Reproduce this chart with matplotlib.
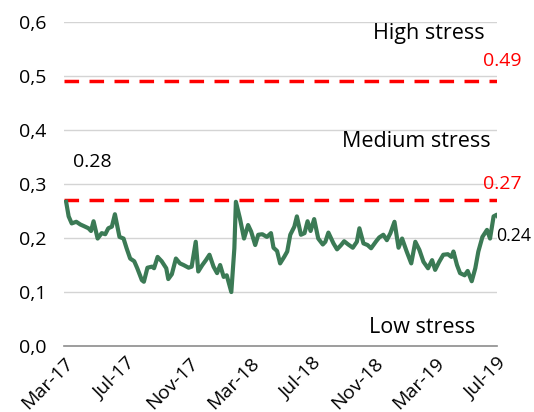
import pandas as pd
import matplotlib
matplotlib.use("Agg")
import matplotlib.pyplot as plt
import matplotlib.dates as mdates
from matplotlib.ticker import FuncFormatter

# ── DATA ──────────────────────────────────────────────────────────────────────

START = "2017-03-01"
# days since START
days = [4, 9, 15, 24, 32, 39, 48, 53, 58, 66, 74, 81, 87, 94, 100, 109, 117, 123,
        130, 138, 144, 153, 157, 164, 173, 177, 184, 192, 201, 205, 212, 220, 228,
        235, 245, 251, 259, 264, 272, 279, 286, 294, 301, 307, 314, 320, 329, 335,
        338, 346, 354, 362, 368, 376, 382, 390, 399, 407, 412, 419, 425, 433, 439,
        445, 453, 458, 466, 473, 479, 485, 492, 500, 509, 514, 520, 530, 537, 545,
        551, 559, 568, 576, 581, 589, 597, 604, 614, 620, 628, 635, 642, 650, 658,
        665, 674, 683, 691, 699, 707, 716, 724, 730, 738, 746, 755, 762, 766, 773,
        779, 788, 794, 802, 809, 815, 823, 832, 838, 845, 851, 856]
stress = [0.267, 0.240, 0.227, 0.230, 0.225, 0.222, 0.218, 0.213, 0.231, 0.199,
          0.209, 0.207, 0.218, 0.221, 0.244, 0.202, 0.199, 0.181, 0.162, 0.157,
          0.144, 0.122, 0.119, 0.145, 0.147, 0.144, 0.165, 0.157, 0.144, 0.124,
          0.133, 0.162, 0.153, 0.150, 0.145, 0.147, 0.193, 0.138, 0.150, 0.159,
          0.169, 0.147, 0.135, 0.150, 0.128, 0.131, 0.100, 0.181, 0.267, 0.236,
          0.199, 0.224, 0.212, 0.187, 0.206, 0.207, 0.202, 0.209, 0.182, 0.176,
          0.153, 0.165, 0.175, 0.206, 0.221, 0.240, 0.206, 0.209, 0.231, 0.213,
          0.235, 0.199, 0.188, 0.193, 0.210, 0.190, 0.179, 0.187, 0.194, 0.188,
          0.182, 0.193, 0.218, 0.190, 0.187, 0.181, 0.194, 0.201, 0.206, 0.196,
          0.209, 0.230, 0.182, 0.199, 0.175, 0.153, 0.193, 0.178, 0.156, 0.144,
          0.159, 0.141, 0.156, 0.169, 0.170, 0.165, 0.175, 0.150, 0.135, 0.131,
          0.139, 0.120, 0.144, 0.175, 0.202, 0.215, 0.199, 0.240, 0.243, 0.236]

HIGH_THRESHOLD = 0.49
MEDIUM_THRESHOLD = 0.27
PEAK_LABEL = "0.28"
LAST_LABEL = "0.24"

X_TICKS = ["2017-03-01", "2017-07-01", "2017-11-01", "2018-03-01",
           "2018-07-01", "2018-11-01", "2019-03-01", "2019-07-01"]
Y_TICKS = [0.0, 0.1, 0.2, 0.3, 0.4, 0.5, 0.6]

# ── STYLE ─────────────────────────────────────────────────────────────────────

GREEN = "#3b7a55"
RED = "#ff0000"
GRID = "#d4d4d4"
plt.rcParams["font.family"] = ["Open Sans", "DejaVu Sans"]

dates = pd.Timestamp(START) + pd.to_timedelta(days, unit="D")
xticks = pd.to_datetime(X_TICKS)

fig = plt.figure(figsize=(5.34, 4.12), dpi=100)
ax = fig.add_axes([0.12, 0.16, 0.811, 0.787])

for y in Y_TICKS[1:]:
    ax.axhline(y, color=GRID, linewidth=1.0, zorder=1)

for thr in (HIGH_THRESHOLD, MEDIUM_THRESHOLD):
    ax.axhline(thr, color=RED, linewidth=2.5, linestyle=(0, (4.2, 3.0)), zorder=2)

ax.plot(dates, stress, color=GREEN, linewidth=3.0, solid_joinstyle="round", zorder=3)

ax.set_xlim(xticks[0], xticks[-1])
ax.set_ylim(0, 0.6)
ax.set_xticks(xticks)
ax.xaxis.set_major_formatter(mdates.DateFormatter("%b-%y"))
ax.set_yticks(Y_TICKS)
ax.yaxis.set_major_formatter(FuncFormatter(lambda v, _: f"{v:.1f}".replace(".", ",")))
ax.tick_params(axis="both", length=0, labelsize=14, colors="black")
ax.tick_params(axis="y", pad=13)
ax.tick_params(axis="x", pad=6)
plt.setp(ax.get_xticklabels(), rotation=45, ha="right", rotation_mode="anchor")

for side in ("top", "right", "left"):
    ax.spines[side].set_visible(False)
ax.spines["bottom"].set_color("#8c8c8c")
ax.spines["bottom"].set_linewidth(1.2)

# annotations: x in axes fraction, y in data units
tr = ax.get_yaxis_transform()
ax.text(0.972, 0.578, "High stress", transform=tr, ha="right", va="center", fontsize=15.5)
ax.text(0.985, 0.378, "Medium stress", transform=tr, ha="right", va="center", fontsize=15.5)
ax.text(0.95, 0.035, "Low stress", transform=tr, ha="right", va="center", fontsize=15.5)
ax.text(0.968, 0.528, f"{HIGH_THRESHOLD:.2f}", transform=tr, ha="left", va="center",
        fontsize=14, color=RED)
ax.text(0.968, 0.300, f"{MEDIUM_THRESHOLD:.2f}", transform=tr, ha="left", va="center",
        fontsize=14, color=RED)
ax.text(0.02, 0.341, PEAK_LABEL, transform=tr, ha="left", va="center", fontsize=14)
ax.text(0.998, 0.204, LAST_LABEL, transform=tr, ha="left", va="center", fontsize=12.8)

fig.savefig("out.png", dpi=100)
